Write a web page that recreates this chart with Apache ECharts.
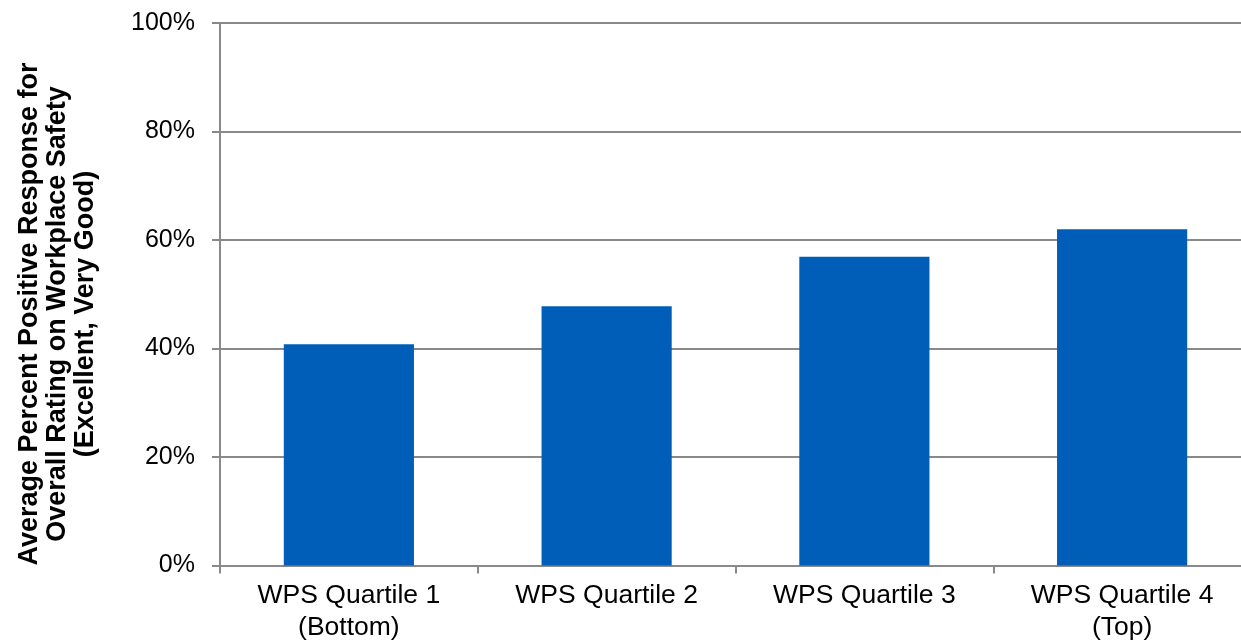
<!DOCTYPE html>
<html>
<head>
<meta charset="utf-8">
<script src="https://cdn.jsdelivr.net/npm/echarts@6/dist/echarts.min.js"></script>
<style>
html,body{margin:0;padding:0;background:#fff;}
#chart{width:1241px;height:640px;}
</style>
</head>
<body>
<div id="chart"></div>
<script>
const categories = ["WPS Quartile 1\n(Bottom)", "WPS Quartile 2", "WPS Quartile 3", "WPS Quartile 4\n(Top)"];
const values = [40.8, 47.8, 56.9, 62.0];
const yTicks = [0, 20, 40, 60, 80, 100];
const yTitle = "Average Percent Positive Response for\nOverall Rating on Workplace Safety\n(Excellent, Very Good)";

const chart = echarts.init(document.getElementById('chart'), null, {renderer: 'canvas'});
const font = "'Liberation Sans', Arial, sans-serif";
const lineCol = '#898989';
chart.setOption({
  animation: false,
  grid: {left: 220, top: 23, height: 542.5, width: 1031, containLabel: false, outerBoundsMode: 'none'},
  xAxis: {
    type: 'category',
    data: categories,
    axisLine: {show: true, lineStyle: {color: lineCol, width: 2}},
    axisTick: {show: true, length: 8, lineStyle: {color: lineCol, width: 2}},
    axisLabel: {color: '#000', fontFamily: font, fontSize: 26.5, lineHeight: 32, margin: 14, interval: 0}
  },
  yAxis: {
    type: 'value',
    min: yTicks[0], max: yTicks[yTicks.length - 1], interval: 20,
    axisLine: {show: true, lineStyle: {color: lineCol, width: 2}},
    axisTick: {show: true, length: 8, lineStyle: {color: lineCol, width: 2}},
    splitLine: {show: true, lineStyle: {color: lineCol, width: 2}},
    axisLabel: {color: '#000', fontFamily: font, fontSize: 25, margin: 25, formatter: '{value}%'}
  },
  series: [{
    type: 'bar',
    data: values,
    barWidth: '50.5%',
    itemStyle: {color: '#005EB8'}
  }],
  graphic: [{
    type: 'text',
    x: 58, y: 314,
    rotation: Math.PI / 2,
    style: {
      text: yTitle,
      fontFamily: font, fontSize: 27, fontWeight: 'bold',
      lineHeight: 28,
      fill: '#000',
      align: 'center', verticalAlign: 'middle'
    }
  }]
});
</script>
</body>
</html>
